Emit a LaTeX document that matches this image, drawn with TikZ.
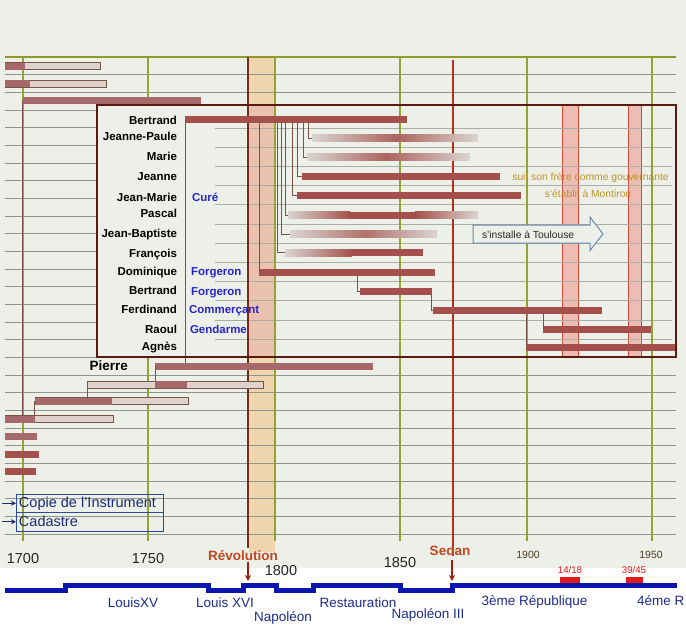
\documentclass[tikz,border=0pt]{standalone}
\usepackage{fontspec}
\setmainfont{Liberation Sans}
\usetikzlibrary{arrows.meta}
\definecolor{bgc}{HTML}{EDF0E9}
\definecolor{barc}{HTML}{A5504C}
\definecolor{hatchD}{HTML}{A6686A}
\definecolor{hatchL}{HTML}{DED2CD}
\definecolor{fadec}{HTML}{D9D5D0}
\definecolor{olivec}{HTML}{93A436}
\definecolor{toplc}{HTML}{8C9A28}
\definecolor{gridc}{HTML}{8F958C}
\definecolor{igridc}{HTML}{A9ADA4}
\definecolor{boxc}{HTML}{5A1A0E}
\definecolor{revband}{HTML}{EFD5AE}
\definecolor{revbandin}{HTML}{EBC2B0}
\definecolor{warband}{HTML}{EDBDB3}
\definecolor{warline}{HTML}{D4483A}
\definecolor{sedanc}{HTML}{B3301C}
\definecolor{revlc}{HTML}{7A2A1A}
\definecolor{jobc}{HTML}{2626C8}
\definecolor{goldc}{HTML}{BE9428}
\definecolor{navyc}{HTML}{1C2A78}
\definecolor{copc}{HTML}{2A4A9A}
\definecolor{reignc}{HTML}{0B16AE}
\definecolor{reignt}{HTML}{1E2C8C}
\definecolor{eventc}{HTML}{C2461E}
\definecolor{evarc}{HTML}{A01E10}
\definecolor{warc}{HTML}{E01A1A}
\definecolor{yearsc}{HTML}{4A3A20}
\definecolor{connc}{HTML}{7A5446}
\definecolor{arrowc}{HTML}{6A86AE}
\newcommand\fsz[1]{\fontsize{#1}{#1}\selectfont}
\newcommand\barnode[5][]{\node[barbase,#1,minimum width={(#4-#3)*1pt}] (#2) at ({(#3+#4)/2},#5) {};}
\newcommand\kid[3]{\draw[conn] (#2.west) -| ([xshift=-#3pt]#2.west |- #1.south);}
\begin{document}
\begin{tikzpicture}[x=1pt,y=-1pt,
 every node/.style={inner sep=0pt,outer sep=0pt},
 hgrid/.style={draw=gridc, line width=0.7pt},
 igrid/.style={draw=igridc, line width=0.6pt},
 vgrid/.style={draw=olivec, line width=1.6pt},
 topl/.style={draw=toplc, line width=2pt},
 warb/.style={fill=warband, draw=warline, line width=1pt},
 revl/.style={draw=revlc, line width=1.3pt},
 sedanl/.style={draw=sedanc, line width=2pt},
 conn/.style={draw=connc, line width=0.8pt},
 barbase/.style={rectangle, draw=none, fill=barc, minimum height=7pt},
 lighthatch/.style={fill=hatchL, draw=connc, line width=0.5pt},
 darkhatch/.style={fill=hatchD},
 namelbl/.style={anchor=base east, font=\fsz{11.5}\bfseries},
 joblbl/.style={anchor=base west, font=\fsz{11.5}\bfseries, text=jobc},
 note/.style={anchor=base, font=\fsz{10.3}, text=goldc},
 yearbig/.style={anchor=base, font=\fsz{14.5}, text=black!85},
 yearsmall/.style={anchor=base, font=\fsz{10.5}, text=yearsc},
 evlbl/.style={anchor=base, font=\fsz{13.5}\bfseries, text=eventc},
 evarrow/.style={draw=evarc, line width=1.3pt, -{Stealth[length=6pt,width=6pt]}},
 warlbl/.style={anchor=base, font=\fsz{9.7}, text=warc},
 reignlbl/.style={anchor=base, font=\fsz{13.5}, text=reignt},
 reignl/.style={draw=reignc, line width=5pt, line join=miter},
 copcell/.style={draw=copc, line width=1pt, minimum height=18.5pt, minimum width=147pt, inner xsep=3pt, font=\fsz{14.5}, text=navyc},
 navarr/.style={draw=navyc, line width=1pt, -{Stealth[length=5pt,width=5pt]}}
]
\useasboundingbox (0,0) rectangle (686,630);
\fill[bgc] (0,0) rectangle (686,568);
\fill[white] (0,568) rectangle (686,630);
% revolution band
\fill[revband] (249,57) rectangle (275,552);
% horizontal grid
\foreach \k in {1,...,27} \draw[hgrid] (5,{57+17.67*\k}) -- (676,{57+17.67*\k});
\draw[topl] (5,57) -- (676,57);
\draw[vgrid] (23,57) -- (23,541);
\draw[vgrid] (148,57) -- (148,541);
% box interior
\fill[bgc] (97,105) rectangle (676,357);
\fill[revbandin] (249,105) rectangle (275,357);
\draw[warb] (562,105) rectangle (578,357);
\draw[warb] (628,105) rectangle (641,357);
\foreach \k in {0,...,11} \draw[igrid] (215,{128+19.18*\k}) -- (672,{128+19.18*\k});
\foreach \xx in {275,400,527,652} \draw[vgrid] (\xx,57) -- (\xx,541);
\draw[revl] (248,57) -- (248,548);
\draw[sedanl] (453,60) -- (453,556);

% bars above the box
\barnode[lighthatch]{t1}{5}{100}{66}
\fill[darkhatch] (5,62.5) rectangle (25,69.5);
\barnode[lighthatch]{t2}{5}{106}{83.5}
\fill[darkhatch] (5,80) rectangle (30,87);
\barnode[darkhatch]{t3}{23}{201}{100.5}

% family in the box
\barnode{bert}{185}{407}{119}
\barnode[fill=none]{jp}{312}{478}{138}
\shade[left color=fadec, right color=barc!85!fadec] (312,134.5) rectangle (396,141.5);
\shade[left color=barc!85!fadec, right color=fadec] (396,134.5) rectangle (478,141.5);
\barnode[fill=none]{marie}{307}{470}{157}
\shade[left color=fadec, right color=barc!85!fadec] (307,153.5) rectangle (386,160.5);
\shade[left color=barc!85!fadec, right color=fadec] (386,153.5) rectangle (470,160.5);
\barnode{jeanne}{302}{500}{176}
\barnode{jm}{297}{521}{195.5}
\barnode[fill=none]{pascal}{288}{478}{215}
\shade[left color=fadec, right color=barc] (288,211.5) rectangle (350,218.5);
\fill[barc] (350,211.5) rectangle (415,218.5);
\shade[left color=barc, right color=fadec] (415,211.5) rectangle (478,218.5);
\barnode[fill=none]{jb}{290}{437}{234}
\shade[left color=fadec, right color=barc!75!fadec] (290,230.5) rectangle (365,237.5);
\shade[left color=barc!75!fadec, right color=fadec] (365,230.5) rectangle (437,237.5);
\barnode[fill=none]{franc}{285}{423}{252.5}
\shade[left color=fadec, right color=barc] (285,249) rectangle (352,256);
\fill[barc] (352,249) rectangle (423,256);
\barnode{dom}{259}{435}{272}
\barnode{bert2}{360}{432}{291}
\barnode{ferd}{433}{602}{310.5}
\barnode{raoul}{543}{651}{329.5}
\barnode{agnes}{526}{675}{347.5}

\kid{bert}{jp}{4}
\kid{bert}{marie}{4}
\kid{bert}{jeanne}{5}
\kid{bert}{jm}{5}
\kid{bert}{pascal}{3}
\kid{bert}{jb}{9}
\kid{bert}{franc}{8}
\kid{bert}{dom}{0}
\kid{dom}{bert2}{3}
\kid{bert2}{ferd}{2}
\kid{ferd}{raoul}{0}
\kid{ferd}{agnes}{0}

% ancestors below the box
\barnode[darkhatch]{pierre}{155}{373}{366}
\barnode[lighthatch]{r384}{87}{263}{384.5}
\fill[darkhatch] (155,381) rectangle (187,388);
\barnode[lighthatch]{r401}{35}{188}{401}
\fill[darkhatch] (35,397.5) rectangle (112,404.5);
\barnode[lighthatch]{r418}{5}{113}{419}
\fill[darkhatch] (5,415.5) rectangle (35,422.5);
\barnode[darkhatch]{r436}{5}{37}{436.5}
\barnode{r453}{5}{39}{454}
\barnode{r470}{5}{36}{471}

\draw[conn] (bert.west) -- (bert.west |- pierre.north);
\draw[conn] (pierre.west) -- (pierre.west |- r384.north);
\draw[conn] (r384.west) -- (r384.west |- r401.north);
\draw[conn] ([xshift=-1pt]r401.west) -- ([xshift=-1pt]r401.west |- r418.north);
\draw[conn] ([xshift=-1pt]t3.west) -- ([xshift=-1pt]t3.west |- r418.north);

% box border
\draw[boxc, line width=2.5pt] (97,105) rectangle (676,357);

% names
\node[namelbl] (n1) at (177,124) {Bertrand};
\node[namelbl] (n2) at (177,140.5) {Jeanne-Paule};
\node[namelbl] (n3) at (177,160) {Marie};
\node[namelbl] (n4) at (177,180) {Jeanne};
\node[namelbl] (n5) at (177,201) {Jean-Marie};
\node[namelbl] (n6) at (177,217) {Pascal};
\node[namelbl] (n7) at (177,237) {Jean-Baptiste};
\node[namelbl] (n8) at (177,257) {François};
\node[namelbl] (n9) at (177,275.5) {Dominique};
\node[namelbl] (n10) at (177,294) {Bertrand};
\node[namelbl] (n11) at (177,313.5) {Ferdinand};
\node[namelbl] (n12) at (177,333) {Raoul};
\node[namelbl] (n13) at (177,350.5) {Agnès};
\node[namelbl, font=\fsz{13.5}\bfseries] (n14) at (128,370) {Pierre};
% occupations
\node[joblbl] (j1) at (192,201) {Curé};
\node[joblbl] (j2) at (191,275.5) {Forgeron};
\node[joblbl] (j3) at (191,295.5) {Forgeron};
\node[joblbl] (j4) at (189,313.5) {Commerçant};
\node[joblbl] (j5) at (190,333) {Gendarme};
% notes
\node[note] (o1) at (590.5,180) {suit son frère comme gouvernante};
\node[note] (o2) at (588,197.5) {s'établit à Montiron};
\draw[draw=arrowc, line width=1pt, fill=bgc] (473,225) -- (590,225) -- (590,217) -- (603,234) -- (590,250.5) -- (590,243) -- (473,243) -- cycle;
\node[anchor=base west, font=\fsz{10.3}, text=black!85] (toul) at (482,238) {s'installe à Toulouse};

% cadastre box
\node[copcell] (cop) at (89.5,503.25) {\makebox[141pt][l]{Copie de l'Instrument}};
\node[copcell] (cad) at (89.5,521.75) {\makebox[141pt][l]{Cadastre}};
\coordinate (ca1) at (2,503.25);
\coordinate (ca2) at (2,521.75);
\draw[navarr] (ca1) -- (cop.west);
\draw[navarr] (ca2) -- (cad.west);

% years
\node[yearbig] (y1700) at (23,563) {1700};
\node[yearbig] (y1750) at (148,563) {1750};
\node[yearbig] (y1800) at (281,575) {1800};
\node[yearbig] (y1850) at (400,567) {1850};
\node[yearsmall] (y1900) at (528,558) {1900};
\node[yearsmall] (y1950) at (651,558) {1950};
\node[evlbl] (rev) at (243,560) {Révolution};
\node[evlbl] (sedan) at (450,555) {Sedan};
\coordinate (revtip) at (248,581);
\coordinate (sedantip) at (452,581);
\draw[evarrow] ([yshift=-2pt]rev.south -| revtip) -- (revtip);
\draw[evarrow] ([yshift=-5pt]sedan.south -| sedantip) -- (sedantip);

% reigns line
\draw[reignl] (5,590.5) -- (65,590.5) -- (65,585.5) -- (208,585.5) -- (208,590.5) -- (243,590.5) -- (243,585.5) -- (276,585.5) -- (276,590.5) -- (313,590.5) -- (313,585.5) -- (400,585.5) -- (400,590.5) -- (452,590.5) -- (452,585.5) -- (677,585.5);
\fill[warc] (560,577) rectangle (580,583);
\fill[warc] (626,577) rectangle (643,583);
\node[warlbl] (w1) at (570,573) {14/18};
\node[warlbl] (w2) at (634,573) {39/45};
\node[reignlbl] (r1) at (133,607.5) {LouisXV};
\node[reignlbl] (r2) at (225,607.5) {Louis XVI};
\node[reignlbl] (r3) at (283,621.5) {Napoléon};
\node[reignlbl] (r4) at (358,607) {Restauration};
\node[reignlbl] (r5) at (428,618) {Napoléon III};
\node[reignlbl] (r6) at (534.5,605) {3ème République};
\node[reignlbl, anchor=base west] (r7) at (637,605) {4éme R};
\end{tikzpicture}
\end{document}
